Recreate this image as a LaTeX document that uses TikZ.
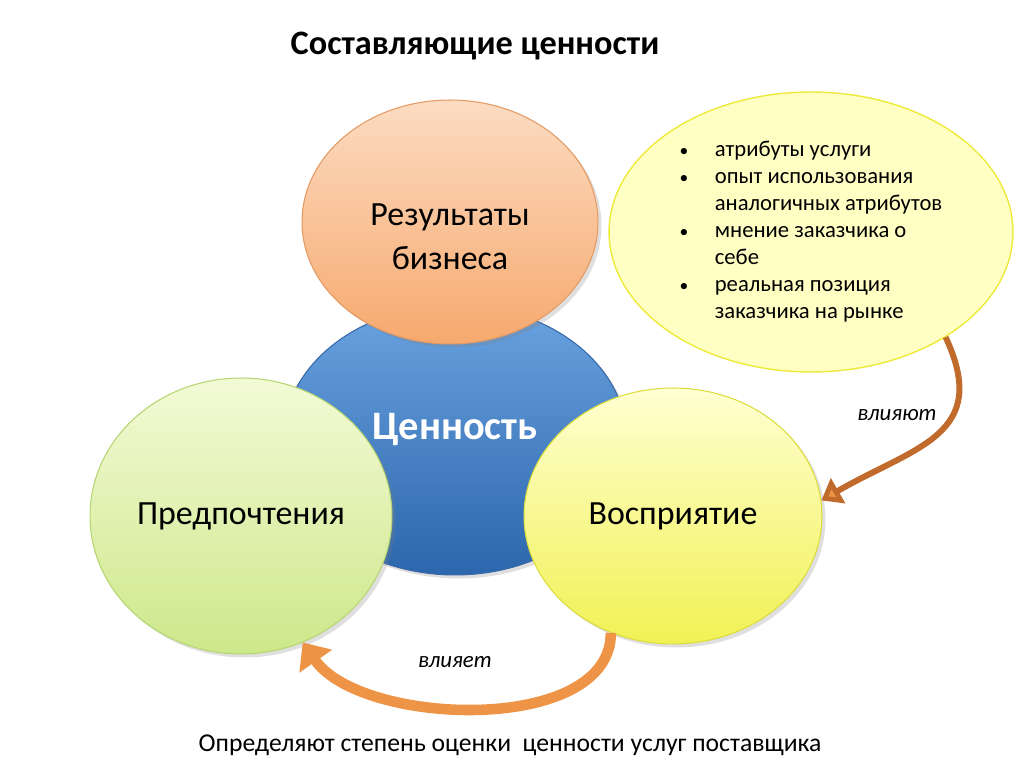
\documentclass[tikz,border=0pt]{standalone}
\usepackage{fontspec}
\setmainfont{Carlito}
\usetikzlibrary{positioning,arrows.meta,shapes.geometric,shadows}
\definecolor{ortop}{HTML}{FCDCC2}
\definecolor{orbot}{HTML}{F6A96E}
\definecolor{orline}{HTML}{E59A62}
\definecolor{bltop}{HTML}{6AA3E0}
\definecolor{blbot}{HTML}{2C66AC}
\definecolor{blline}{HTML}{3768A8}
\definecolor{grtop}{HTML}{F3FAD6}
\definecolor{grbot}{HTML}{CDE88A}
\definecolor{grline}{HTML}{B5D672}
\definecolor{yetop}{HTML}{FFFFD2}
\definecolor{yebot}{HTML}{F1F155}
\definecolor{yeline}{HTML}{DCDC3C}
\definecolor{notefill}{HTML}{FFFFC4}
\definecolor{noteline}{HTML}{EDEA3A}
\definecolor{arrfill}{HTML}{EE9447}
\definecolor{arrline}{HTML}{C06A2C}
\newcommand{\dotitem}{{\fontsize{10}{10}\selectfont\textbullet}}

\begin{document}
\begin{tikzpicture}[x=0.02cm, y=0.02cm,
  bubble/.style={ellipse, draw, line width=0.6pt, inner sep=0pt, align=center,
    font=\fontsize{19.3}{23}\selectfont, drop shadow={opacity=0.25, shadow xshift=2pt, shadow yshift=-2pt}},
  bigarr/.style={-{Triangle[width=22pt, length=13pt, fill=arrfill]}, line width=6pt, draw=arrfill},
  arr/.style={-{Triangle[width=16pt, length=11pt, fill=arrfill]}, line width=3.4pt, draw=arrline},
  lbl/.style={font=\itshape\fontsize{13}{15}\selectfont}
]
\useasboundingbox (0,0) rectangle (1024,767);

% circles
\node[bubble, draw=blline, top color=bltop, bottom color=blbot, minimum width=6.88cm, minimum height=5.4cm,
  text=white, font=\bfseries\fontsize{23}{27}\selectfont] (value) at (455,327) {\raisebox{0pt}[0pt][0pt]{Ценность}};
\node[bubble, draw=orline, top color=ortop, bottom color=orbot, minimum width=5.92cm, minimum height=4.88cm]
  (result) at (450,545) {\raisebox{-15pt}[0pt][0pt]{\begin{tabular}{@{}c@{}}Результаты\\[2pt]бизнеса\end{tabular}}};
\node[bubble, draw=grline, top color=grtop, bottom color=grbot, minimum width=6.04cm, minimum height=5.52cm]
  (pref) at (241,251) {Предпочтения};
\node[bubble, draw=yeline, top color=yetop, bottom color=yebot, minimum width=5.96cm, minimum height=5.12cm]
  (percept) at (673,251) {Восприятие};

% note
\node[ellipse, draw=noteline, line width=0.8pt, fill=notefill, inner sep=0pt, minimum width=8.08cm, minimum height=5.6cm,
  font=\fontsize{12.9}{15.4}\selectfont] (note) at (811,535) {%
  \begin{tabular}{@{}l@{\hspace{15pt}}l@{}}
  \dotitem & атрибуты услуги\\
  \dotitem & опыт использования\\
           & аналогичных атрибутов\\
  \dotitem & мнение заказчика о\\
           & себе\\
  \dotitem & реальная позиция\\
           & заказчика на рынке
  \end{tabular}};

% texts
\node[font=\bfseries\fontsize{19.5}{23}\selectfont] (title) at (475,721) {Составляющие ценности};
\node[font=\fontsize{14.6}{17}\selectfont] (bottom) at (510,22) {Определяют степень оценки\ \ ценности услуг поставщика};

% arrows
\draw[bigarr] (percept.-118) to[out=-90, in=-55, looseness=0.85] (pref.-64);
\draw[arr] (note.-38) to[out=-65, in=30, looseness=1.35] (percept.6);
\node[lbl] (infl1) at (455,105) {влияет};
\node[lbl] (infl2) at (897,352) {влияют};
\end{tikzpicture}
\end{document}
